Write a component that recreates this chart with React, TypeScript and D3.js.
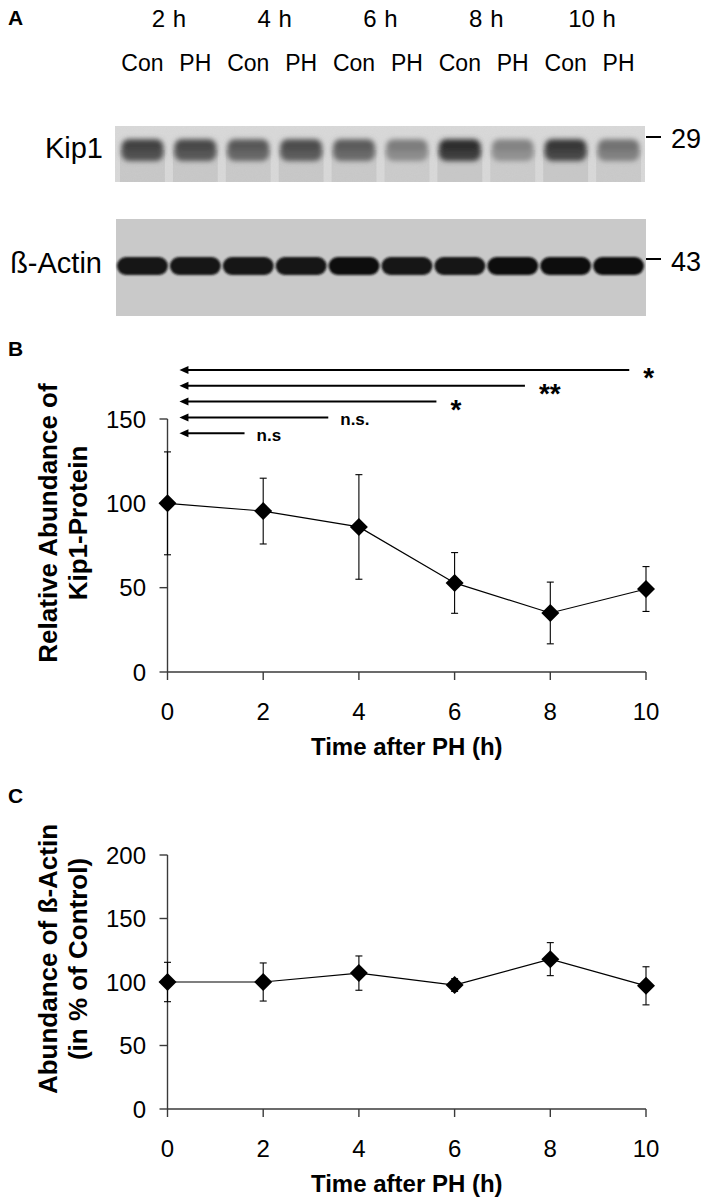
import React from "react";
import * as d3 from "d3";

// ---------- data ----------
const hours = [0, 2, 4, 6, 8, 10];
const kipMean = [100, 95.4, 86, 52.8, 35, 49.2];
const kipSEM = [30.5, 19.5, 31, 18, 18.3, 13.3];
const actinMean = [100, 100, 107, 97.6, 118, 97];
const actinSEM = [15.5, 15, 13.5, 5, 13, 15];
const kipTicks = [0, 50, 100, 150];
const actinTicks = [0, 50, 100, 150, 200];
const hourTicks = [0, 2, 4, 6, 8, 10];
const sigFrom = 0.25;
const sigTo = [9.65, 7.47, 5.62, 3.36, 1.61];
const sigLabels = ["*", "**", "*", "n.s.", "n.s"];
const timeGroups = ["2 h", "4 h", "6 h", "8 h", "10 h"];
const laneLabels = ["Con", "PH", "Con", "PH", "Con", "PH", "Con", "PH", "Con", "PH"];
const kipBandDensity = [0.78, 0.74, 0.66, 0.72, 0.64, 0.46, 0.88, 0.43, 0.84, 0.52];
const actinBandDensity = [0.97, 0.95, 0.95, 0.97, 0.98, 0.96, 0.94, 0.98, 1, 0.98];
const markers = [{ label: "29" }, { label: "43" }];

const FONT = "'Liberation Sans', Arial, Helvetica, sans-serif";

function Blots() {
  const lanes = d3.scaleBand<number>().domain(d3.range(laneLabels.length)).range([116, 645]);
  const bw = lanes.bandwidth();
  const gray = (d: number) => {
    const v = Math.round(225 - d * 185);
    return `rgb(${v},${v},${v})`;
  };
  return (
    <g>
      <defs>
        <filter id="blurK" x="-30%" y="-60%" width="160%" height="220%">
          <feGaussianBlur stdDeviation="2.6" />
        </filter>
        <filter id="blurA" x="-20%" y="-50%" width="140%" height="200%">
          <feGaussianBlur stdDeviation="1.1" />
        </filter>
        <filter id="grain" x="0" y="0" width="100%" height="100%">
          <feTurbulence type="fractalNoise" baseFrequency="0.9" numOctaves="2" seed="3" result="n" />
          <feColorMatrix in="n" type="matrix"
            values="0 0 0 0 0.5  0 0 0 0 0.5  0 0 0 0 0.5  0 0 0 0.18 0" result="g" />
          <feComposite in="g" in2="SourceGraphic" operator="in" result="gg" />
          <feMerge><feMergeNode in="SourceGraphic" /><feMergeNode in="gg" /></feMerge>
        </filter>
      </defs>
      <text x={8} y={25} fontFamily={FONT} fontWeight="bold" fontSize={21}>A</text>
      {timeGroups.map((t, i) => (
        <text key={t} x={(lanes(2 * i)! + lanes(2 * i + 1)! + bw) / 2} y={27}
          fontFamily={FONT} fontSize={24} textAnchor="middle" wordSpacing={1}>{t}</text>
      ))}
      {laneLabels.map((l, i) => (
        <text key={i} x={lanes(i)! + bw / 2} y={71} fontFamily={FONT} fontSize={23} textAnchor="middle">{l}</text>
      ))}
      {/* Kip1 blot */}
      <rect x={115} y={126} width={530} height={56} fill="#dadada" filter="url(#grain)" />
      {kipBandDensity.map((d, i) => (
        <rect key={"s" + i} x={lanes(i)! + 4} y={150} width={bw - 8} height={32} fill="#000" opacity={0.04 + d * 0.04} />
      ))}
      <g filter="url(#blurK)">
        {kipBandDensity.map((d, i) => (
          <g key={i}>
            <rect x={lanes(i)! + bw * 0.1} y={139} width={bw * 0.8} height={22} rx={8} fill={gray(d)} />
            <rect x={lanes(i)! + bw * 0.14} y={141} width={bw * 0.72} height={10} rx={5} fill={gray(Math.min(1, d + 0.08))} />
          </g>
        ))}
      </g>
      <text x={103} y={158} fontFamily={FONT} fontSize={29} textAnchor="end">Kip1</text>
      <line x1={646} x2={661} y1={137} y2={137} stroke="#000" strokeWidth={2} />
      <text x={671} y={148} fontFamily={FONT} fontSize={27}>{markers[0].label}</text>
      {/* Actin blot */}
      <rect x={116} y={219} width={530} height={97} fill="#c9c9c9" />
      <g filter="url(#blurA)">
        {actinBandDensity.map((d, i) => (
          <rect key={i} x={lanes(i)! + 1} y={257} width={bw - 2} height={18} rx={9}
            fill={gray(d + 0.15)} />
        ))}
      </g>
      <text x={102} y={273} fontFamily={FONT} fontSize={29} textAnchor="end">ß-Actin</text>
      <line x1={646} x2={661} y1={259} y2={259} stroke="#000" strokeWidth={2} />
      <text x={671} y={271} fontFamily={FONT} fontSize={27}>{markers[1].label}</text>
    </g>
  );
}

type PanelProps = {
  letter: string;
  letterY: number;
  top: number;
  bottom: number;
  ticks: number[];
  means: number[];
  sems: number[];
  title: string[];
  titleY: number;
  sig?: boolean;
};

function Panel({ letter, letterY, top, bottom, ticks, means, sems, title, titleY, sig }: PanelProps) {
  const x = d3.scaleLinear().domain([0, 10]).range([167.5, 646]);
  const y = d3.scaleLinear().domain([0, d3.max(ticks)!]).range([bottom, top]);
  const axisColor = "#3a3a3a";
  const pts = hours.map((h, i) => [x(h), y(means[i])] as [number, number]);
  const line = d3.line()(pts)!;
  const diamond = d3.symbol(d3.symbolSquare, 2 * 9 * 9)()!;
  const x0 = x(0);
  return (
    <g>
      <text x={8} y={letterY} fontFamily={FONT} fontWeight="bold" fontSize={21}>{letter}</text>
      {/* y axis */}
      <line x1={x0} x2={x0} y1={top} y2={bottom} stroke={axisColor} strokeWidth={1.4} />
      {ticks.map((t) => (
        <g key={t}>
          <line x1={x0 - 8} x2={x0} y1={y(t)} y2={y(t)} stroke={axisColor} strokeWidth={1.4} />
          <text x={146} y={y(t)} dy="0.36em" textAnchor="end" fontFamily={FONT} fontSize={24}>{t}</text>
        </g>
      ))}
      {/* x axis */}
      <line x1={x0} x2={x(10)} y1={bottom} y2={bottom} stroke={axisColor} strokeWidth={1.4} />
      {hourTicks.map((t) => (
        <g key={t}>
          <line x1={x(t)} x2={x(t)} y1={bottom} y2={bottom + 8} stroke={axisColor} strokeWidth={1.4} />
          <text x={x(t)} y={bottom + 48} textAnchor="middle" fontFamily={FONT} fontSize={24}>{t}</text>
        </g>
      ))}
      <text x={(x0 + x(10)) / 2} y={bottom + 83} textAnchor="middle" fontFamily={FONT} fontWeight="bold" fontSize={24}>
        Time after PH (h)
      </text>
      {/* y title */}
      {title.map((t, i) => (
        <text key={i} transform={`translate(${i === 0 ? 57 : 87},${titleY}) rotate(-90)`} textAnchor="middle"
          fontFamily={FONT} fontWeight="bold" fontSize={26}>{t}</text>
      ))}
      {/* error bars */}
      {hours.map((h, i) => (
        <g key={i} stroke="#000" strokeWidth={1.1}>
          <line x1={x(h)} x2={x(h)} y1={y(means[i] + sems[i])} y2={y(means[i] - sems[i])} />
          <line x1={x(h) - 3.5} x2={x(h) + 3.5} y1={y(means[i] + sems[i])} y2={y(means[i] + sems[i])} />
          <line x1={x(h) - 3.5} x2={x(h) + 3.5} y1={y(means[i] - sems[i])} y2={y(means[i] - sems[i])} />
        </g>
      ))}
      <path d={line} fill="none" stroke="#000" strokeWidth={1.2} />
      {pts.map((p, i) => (
        <path key={i} d={diamond} transform={`translate(${p[0]},${p[1]}) rotate(45)`} fill="#000" />
      ))}
      {sig &&
        sigTo.map((t, i) => {
          const yy = 370 + i * 15.8;
          const tip = x(sigFrom);
          const isStar = sigLabels[i].startsWith("*");
          return (
            <g key={i}>
              <line x1={tip + 6} x2={x(t)} y1={yy} y2={yy} stroke="#000" strokeWidth={2} />
              <path d={`M${tip},${yy}L${tip + 9},${yy - 4}L${tip + 9},${yy + 4}Z`} fill="#000" />
              <text x={x(t) + (isStar ? 14 : 12)} y={yy + (isStar ? 17 : 8)} fontFamily={FONT} fontWeight="bold"
                fontSize={isStar ? 28 : 17}>{sigLabels[i]}</text>
            </g>
          );
        })}
    </g>
  );
}

export default function App() {
  return (
    <svg width={708} height={1204} style={{ position: "absolute", left: 0, top: 0, background: "#fff" }}>
      <rect width={708} height={1204} fill="#fff" />
      <Blots />
      <Panel letter="B" letterY={356} top={419} bottom={672} ticks={kipTicks} means={kipMean} sems={kipSEM}
        title={["Relative Abundance of", "Kip1-Protein"]} titleY={523} sig />
      <Panel letter="C" letterY={803} top={855} bottom={1109} ticks={actinTicks} means={actinMean} sems={actinSEM}
        title={["Abundance of ß-Actin", "(in % of Control)"]} titleY={959} />
    </svg>
  );
}
